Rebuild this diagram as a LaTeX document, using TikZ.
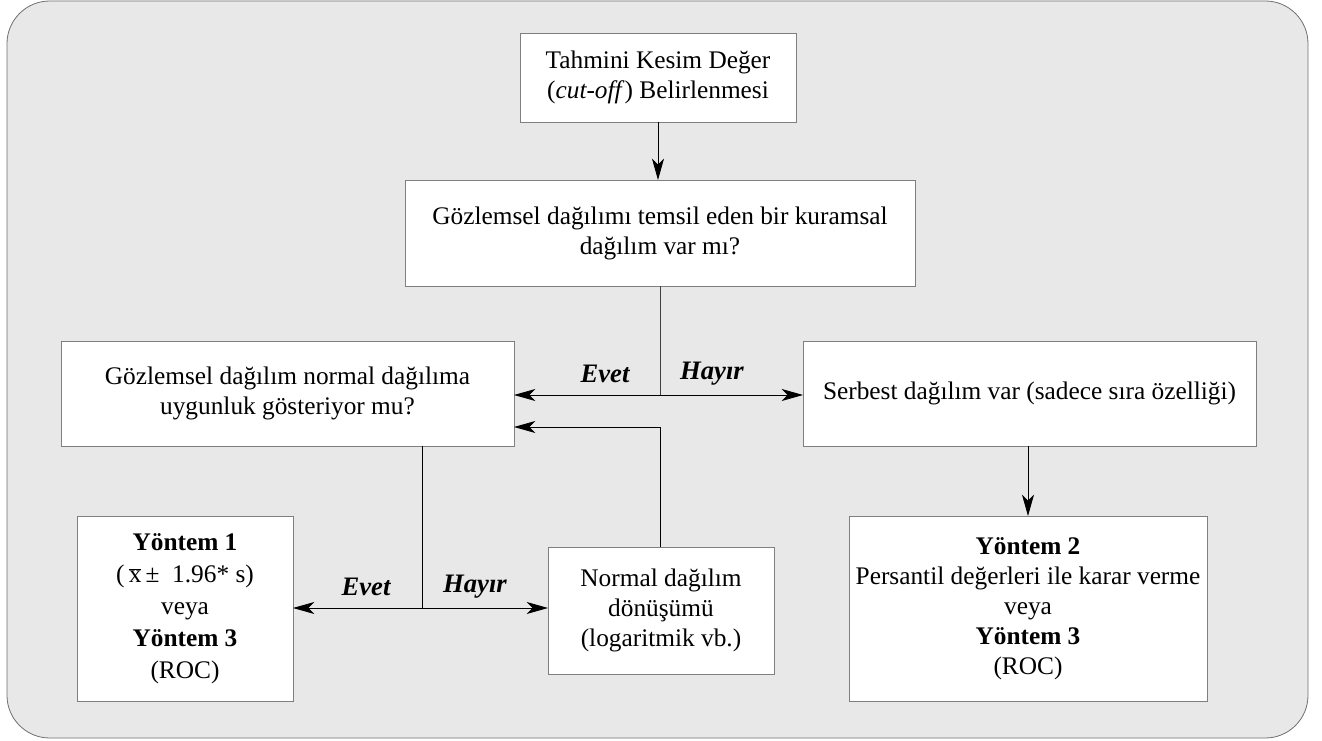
\documentclass[tikz,border=0pt]{standalone}
\usepackage{fontspec}
\setmainfont{Liberation Serif}
\usetikzlibrary{arrows.meta}
\definecolor{bgc}{HTML}{E8E8E8}
\definecolor{edgec}{HTML}{7F7F7F}
\definecolor{framec}{HTML}{707070}
\begin{document}
\begin{tikzpicture}[x=0.75pt,y=-0.75pt,
  font=\fontsize{19}{22.5}\selectfont,
  box/.style={draw=edgec, fill=white, line width=0.6pt, align=center, inner sep=2pt, outer sep=0pt},
  arr/.style={-{Stealth[length=16pt,width=9pt,inset=4.5pt]}, line width=0.6pt, draw=black},
  plain/.style={line width=0.6pt, draw=black!75},
  lbl/.style={font=\fontsize{20}{22}\selectfont\bfseries\itshape, inner sep=0pt}
]
\useasboundingbox (0,0) rectangle (1322,741);
\draw[fill=bgc, draw=framec, line width=0.6pt, rounded corners=32pt] (7,1) rectangle (1308,738);

\node[box, minimum width=207pt, minimum height=66.75pt] (top) at (658,77.5)
  {Tahmini Kesim Değer\\(\textit{cut-off}) Belirlenmesi};
\node[box, minimum width=382.5pt, minimum height=79.5pt] (q1) at (660,233)
  {Gözlemsel dağılımı temsil eden bir kuramsal\\dağılım var mı?};
\node[box, minimum width=339.75pt, minimum height=78.75pt] (normq) at (287.5,393.5)
  {Gözlemsel dağılım normal dağılıma\\uygunluk gösteriyor mu?};
\node[box, minimum width=339.75pt, minimum height=78.75pt] (serb) at (1029.5,393.5)
  {Serbest dağılım var (sadece sıra özelliği)};
\node[box, minimum width=162pt, minimum height=138.75pt, font=\fontsize{19}{24}\selectfont] (y1) at (185,608.5)
  {\textbf{Yöntem 1}\\(\,$\overline{\mbox{x}}$\,±\ \ 1.96* s)\\veya\\\textbf{Yöntem 3}\\(ROC)};
\node[box, minimum width=169.5pt, minimum height=95.25pt] (nd) at (661,610.5)
  {Normal dağılım\\dönüşümü\\(logaritmik vb.)};
\node[box, minimum width=268.5pt, minimum height=138.75pt] (y2) at (1028,608.5)
  {\textbf{Yöntem 2}\\Persantil değerleri ile karar verme\\veya\\\textbf{Yöntem 3}\\(ROC)};

\coordinate (j1) at (660,395);
\coordinate (j2) at (660,427);
\coordinate (j3) at (422,608);

\draw[arr] (top.south) -- (top.south |- q1.north);
\draw[plain] (q1.south -| j1) -- (j1);
\draw[arr] (j1) -- (normq.east |- j1);
\draw[arr] (j1) -- (serb.west |- j1);
\draw[arr] (nd.north -| j2) -- (j2) -- (normq.east |- j2);
\draw[plain, draw=black] (normq.south -| j3) -- (j3);
\draw[arr] (j3) -- (y1.east |- j3);
\draw[arr] (j3) -- (nd.west |- j3);
\draw[arr] (serb.south -| y2.north) -- (y2.north);

\node[lbl] (e1) at (605,374) {Evet};
\node[lbl] (h1) at (712,374) {Hayır};
\node[lbl] (e2) at (366,587) {Evet};
\node[lbl] (h2) at (475,587) {Hayır};
\end{tikzpicture}
\end{document}
